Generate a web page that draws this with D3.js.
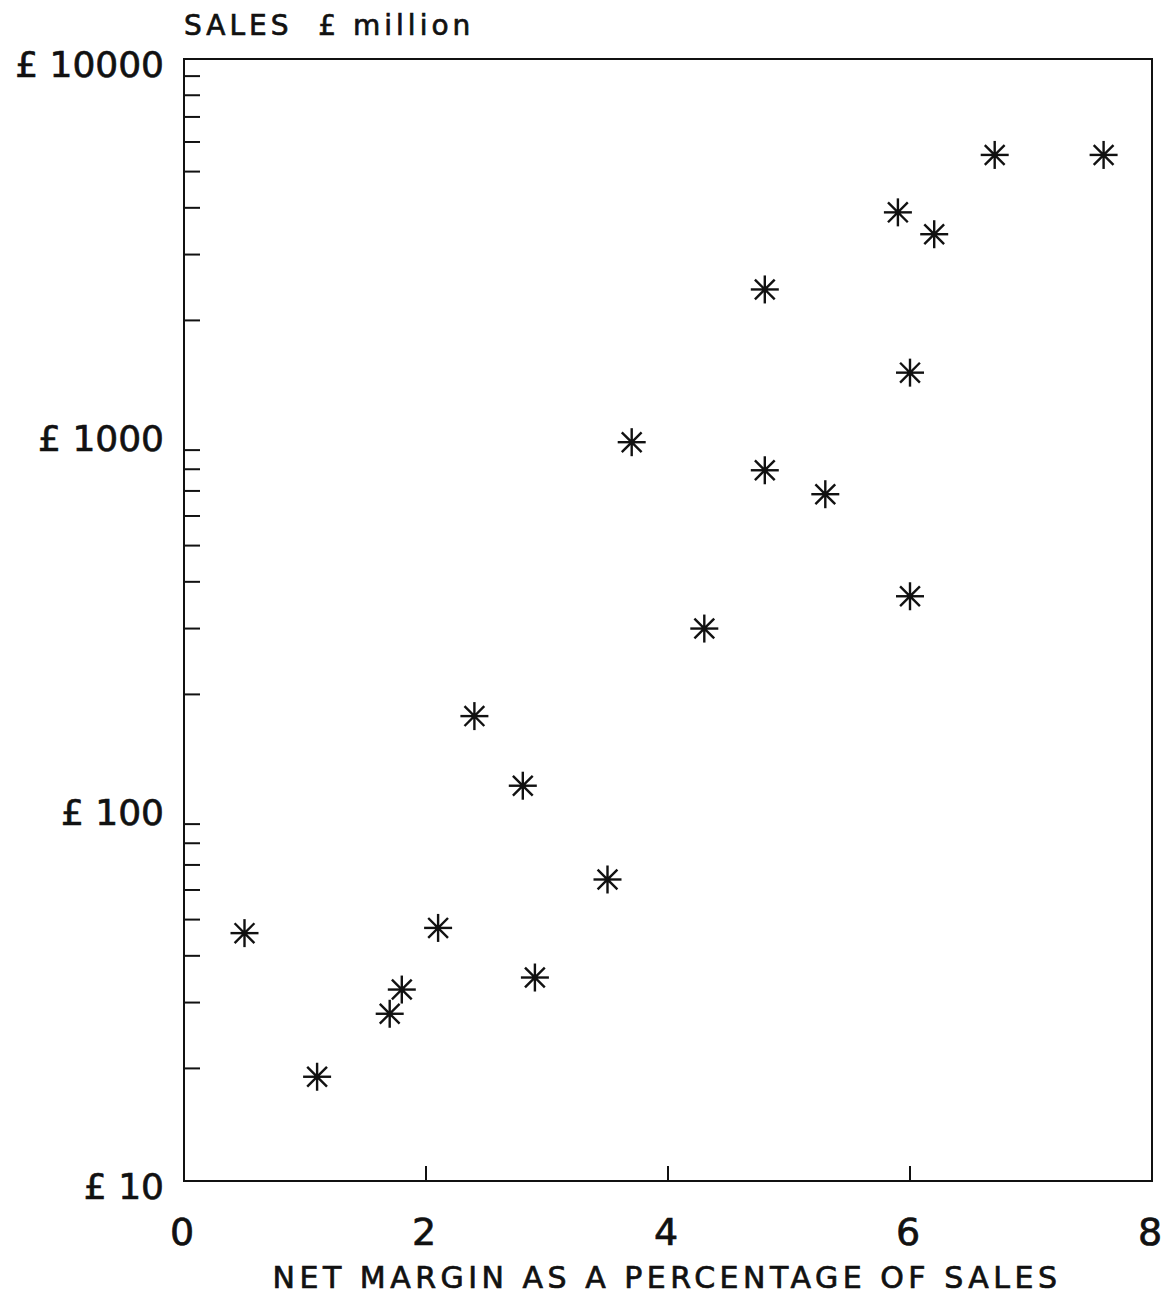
<!DOCTYPE html>
<html>
<head>
<meta charset="utf-8">
<script src="https://cdn.jsdelivr.net/npm/d3@7"></script>
<style>
  body { margin: 0; background: #fff; }
  text { font-family: "DejaVu Sans", "Liberation Sans", sans-serif; fill: #111; stroke: #111; stroke-width: 0.7px; }
</style>
</head>
<body>
<div id="chart"></div>
<script>
// Net margin (%) and sales (£ million)
const margin = [0.5, 1.1, 1.7, 1.8, 2.1, 2.4, 2.8, 2.9, 3.5, 3.7, 4.3, 4.8, 4.8, 5.3, 5.9, 6.2, 6.0, 6.0, 6.7, 7.6];
const sales = [46, 19, 28, 32.5, 47.5, 175, 114, 35, 64, 945, 300, 795, 2420, 686, 3890, 3400, 1450, 366, 5540, 5540];

const xTicks = [0, 2, 4, 6, 8];
const yTicks = [10, 100, 1000, 10000];
const yTickLabels = ["£ 10", "£ 100", "£ 1000", "£ 10000"];

const W = 1174, H = 1296;
const plot = { left: 184, right: 1152, top: 59, bottom: 1181 };

const svg = d3.select("#chart").append("svg")
  .attr("width", W)
  .attr("height", H);

const x = d3.scaleLinear().domain([0, 8]).range([plot.left, plot.right]);
const y = d3.scaleLog().domain([10, 10000]).range([plot.bottom, plot.top]);

// frame
svg.append("rect")
  .attr("x", plot.left).attr("y", plot.top)
  .attr("width", plot.right - plot.left)
  .attr("height", plot.bottom - plot.top)
  .attr("fill", "none")
  .attr("stroke", "#111")
  .attr("stroke-width", 2);

// minor ticks on the log axis (2..9 in each decade), pointing inward
const minor = [];
[10, 100, 1000].forEach(function (d) {
  for (let k = 2; k <= 9; k++) minor.push(d * k);
});
svg.append("g")
  .selectAll("line")
  .data(minor)
  .join("line")
  .attr("x1", plot.left).attr("x2", plot.left + 16)
  .attr("y1", d => y(d)).attr("y2", d => y(d))
  .attr("stroke", "#111")
  .attr("stroke-width", 2);

// x ticks, inward from bottom
svg.append("g")
  .selectAll("line")
  .data(xTicks.slice(1, -1))
  .join("line")
  .attr("x1", d => x(d)).attr("x2", d => x(d))
  .attr("y1", plot.bottom).attr("y2", plot.bottom - 15)
  .attr("stroke", "#111")
  .attr("stroke-width", 2);

// x tick labels
svg.append("g")
  .selectAll("text")
  .data(xTicks)
  .join("text")
  .attr("x", d => x(d) - 2)
  .attr("y", plot.bottom + 64)
  .attr("text-anchor", "middle")
  .style("font-size", "38px")
  .text(d => d);

// y tick labels
svg.append("g")
  .selectAll("text")
  .data(yTicks)
  .join("text")
  .attr("x", plot.left - 20)
  .attr("y", d => y(d) + 18)
  .attr("text-anchor", "end")
  .style("font-size", "36px")
  .text((d, i) => yTickLabels[i]);

// axis titles
svg.append("text")
  .attr("x", plot.left)
  .attr("y", 35)
  .style("font-size", "28px")
  .style("letter-spacing", "4px")
  .attr("xml:space", "preserve")
  .text("SALES  £ million");

svg.append("text")
  .attr("x", 667)
  .attr("y", 1288)
  .attr("text-anchor", "middle")
  .style("font-size", "30px")
  .style("letter-spacing", "4.5px")
  .text("NET MARGIN AS A PERCENTAGE OF SALES");

// asterisk markers
const r = 14;
const spokes = [0, 45, 90, 135];
const pts = svg.append("g")
  .selectAll("g")
  .data(margin.map((m, i) => ({ m: m, s: sales[i] })))
  .join("g")
  .attr("transform", d => `translate(${x(d.m)},${y(d.s)})`);

spokes.forEach(function (a) {
  const rad = a * Math.PI / 180;
  pts.append("line")
    .attr("x1", -r * Math.cos(rad)).attr("y1", -r * Math.sin(rad))
    .attr("x2", r * Math.cos(rad)).attr("y2", r * Math.sin(rad))
    .attr("stroke", "#111")
    .attr("stroke-width", 2.4);
});
pts.append("circle").attr("r", 3).attr("fill", "#111");
</script>
</body>
</html>
